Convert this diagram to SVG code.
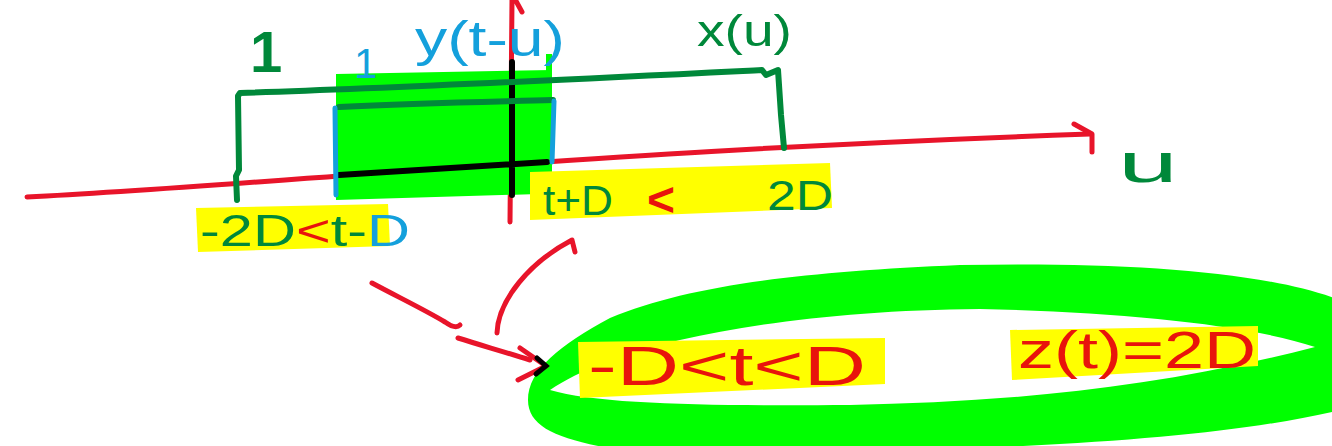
<svg xmlns="http://www.w3.org/2000/svg" width="1332" height="446" viewBox="0 0 1332 446">
<style>
.r{fill:none;stroke:#e8142a;stroke-width:5;stroke-linecap:round;stroke-linejoin:round}
.g{fill:none;stroke:#00883a;stroke-width:6;stroke-linecap:round;stroke-linejoin:round}
.b{fill:none;stroke:#14a0dc;stroke-width:5;stroke-linecap:round}
.k{fill:none;stroke:#000;stroke-width:6;stroke-linecap:round}
.t{font-family:"Liberation Sans",Arial,sans-serif}
.tg{fill:#00883a}.tr{fill:#e8140c}.tb{fill:#14a0dc}
.hl{fill:#ffff00}
</style>
<rect width="1332" height="446" fill="#fff"/>
<g id="ring">
<path fill="#00ff00" fill-rule="evenodd" d="M528,400 C528,370 560,345 610,318 C690,285 800,272 960,265 C1120,262 1260,270 1340,300 L1340,410 C1250,432 1100,446 900,450 L620,450 C560,440 528,428 528,400 Z M550,390 C600,405 720,406 850,405 C1000,402 1150,390 1315,347 C1250,325 1120,312 980,309 C860,310 760,322 680,340 C620,355 580,370 550,390 Z"/>
</g>
<g id="axes">
<path class="r" d="M27,197 C150,191 300,178 400,172 C600,158 800,144 1090,134"/>
<path class="r" d="M1074,124 L1092,134 L1092,152"/>
<path class="r" d="M510,222 L512,0 M516,1 L522,12"/>
</g>
<g id="overlap">
<path fill="#00ff00" d="M336,74 L552,70 L552,194 L538,194 L336,200 Z"/>
<path fill="#00ff00" d="M546,54 L552,54 L552,72 L546,72 Z"/>
<path class="k" d="M339,175 L547,162 M512,62 L512,195"/>
</g>
<g id="x-pulse">
<path class="g" d="M237,200 L236,176 L239,170 L238,96 L240,93 C400,88 600,78 762,70 L766,75 L778,70 L781,115 L784,148"/>
</g>
<g id="y-pulse">
<path class="g" d="M339,107 C420,103 480,102 553,100"/>
<path class="b" d="M335,108 L336,195 M554,101 L552,162"/>
</g>
<g id="labels-top">
<text class="t tg" x="250" y="72" font-size="58" font-weight="bold">1</text>
<text class="t tb" x="354" y="78" font-size="42">1</text>
<text class="t tb" x="415" y="56" font-size="50" textLength="150" lengthAdjust="spacingAndGlyphs">y(t-u)</text>
<text class="t tg" x="697" y="46" font-size="44" textLength="95" lengthAdjust="spacingAndGlyphs">x(u)</text>
<text class="t tg" x="1118" y="182" font-size="56" textLength="60" lengthAdjust="spacingAndGlyphs">u</text>
</g>
<g id="bound-left">
<path class="hl" d="M196,208 L388,204 L390,246 L198,252 Z"/>
<text class="t" x="200" y="246" font-size="44" textLength="210" lengthAdjust="spacingAndGlyphs"><tspan class="tg">-2D</tspan><tspan class="tr">&lt;</tspan><tspan class="tg">t-</tspan><tspan class="tb">D</tspan></text>
</g>
<g id="bound-right">
<path class="hl" d="M530,172 L830,163 L832,208 L530,220 Z"/>
<text class="t tg" x="543" y="215" font-size="42" textLength="70" lengthAdjust="spacingAndGlyphs">t+D</text>
<text class="t tr" x="647" y="216" font-size="48" font-weight="bold">&lt;</text>
<text class="t tg" x="767" y="210" font-size="42" textLength="66" lengthAdjust="spacingAndGlyphs">2D</text>
</g>
<g id="connectors">
<path class="r" d="M372,283 C400,298 425,310 445,322 C452,327 457,328 460,325"/>
<path class="r" d="M458,338 C480,345 505,352 530,360"/>
<path class="r" d="M520,348 L546,366 L518,380"/>
<path d="M537,358 L546,366 L536,374" fill="none" stroke="#000" stroke-width="5" stroke-linecap="round"/>
<path class="r" d="M497,333 C498,300 530,262 572,240 L575,252"/>
</g>
<g id="result">
<path class="hl" d="M578,342 L885,338 L885,384 L580,398 Z"/>
<text class="t tr" x="588" y="385" font-size="56" textLength="278" lengthAdjust="spacingAndGlyphs">-D&lt;t&lt;D</text>
<path class="hl" d="M1010,330 L1258,326 L1258,366 L1012,380 Z"/>
<text class="t tr" x="1018" y="368" font-size="52" textLength="238" lengthAdjust="spacingAndGlyphs">z(t)=2D</text>
</g>
</svg>
